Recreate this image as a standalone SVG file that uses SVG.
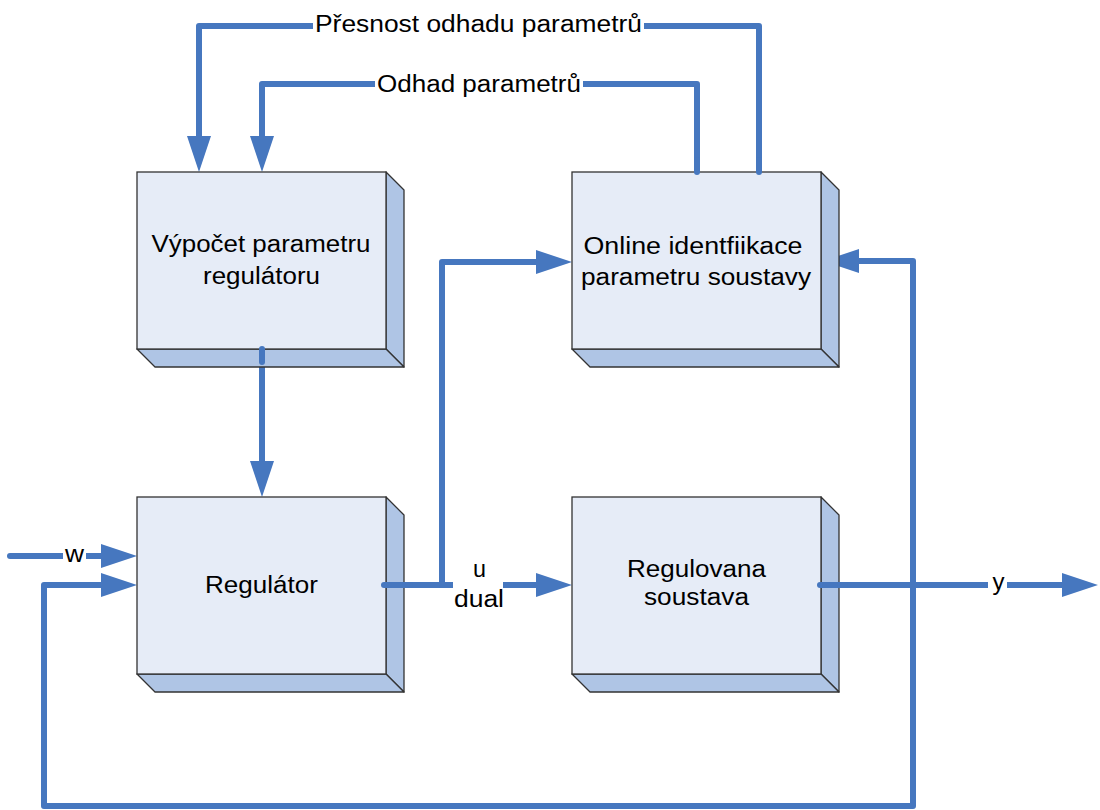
<svg xmlns="http://www.w3.org/2000/svg" width="1100" height="810" viewBox="0 0 1100 810">
  <defs>
    <style>
      .front { fill: #E6ECF7; stroke: #333; stroke-width: 1.3; }
      .side { fill: #AFC5E5; stroke: #333; stroke-width: 1.3; stroke-linejoin: round; }
      .wire { fill: none; stroke: #4677BF; stroke-width: 6; stroke-linecap: round; stroke-linejoin: round; }
      .lbl { font-family: "Liberation Sans", Arial, sans-serif; font-size: 23.5px; fill: #000; text-anchor: middle; }
      .gap { fill: #fff; }
    </style>
    <marker id="arrow" markerUnits="userSpaceOnUse" markerWidth="37" markerHeight="24" refX="1" refY="12" orient="auto">
      <path d="M0,0 L36,12 L0,24 z" fill="#4677BF"/>
    </marker>
    <!-- bevelled block: front face 249x177 with 18px depth -->
    <g id="block">
      <path class="side" d="M249,0 L267,18 L267,195 L249,177 z"/>
      <path class="side" d="M0,177 L249,177 L267,195 L18,195 z"/>
      <rect class="front" x="0" y="0" width="249" height="177"/>
    </g>
  </defs>

  <rect width="1100" height="810" fill="#fff"/>

  <!-- connectors -->
  <g id="connectors">
    <path class="wire" d="M759,172 V26 H199 V137" marker-end="url(#arrow)"/>
    <path class="wire" d="M697,172 V84 H262 V137" marker-end="url(#arrow)"/>
    <path class="wire" d="M262,349 V462" marker-end="url(#arrow)"/>
    <path class="wire" d="M10,556 H102" marker-end="url(#arrow)"/>
    <path class="wire" d="M913,585 V806 H44 V585 H102" marker-end="url(#arrow)"/>
    <path class="wire" d="M913,585 V261 H858" marker-end="url(#arrow)"/>
    <path class="wire" d="M384,585 H537" marker-end="url(#arrow)"/>
    <path class="wire" d="M442,585 V262 H537" marker-end="url(#arrow)"/>
    <path class="wire" d="M820,585 H1063" marker-end="url(#arrow)"/>

    <!-- label backgrounds interrupt the lines -->
    <rect class="gap" x="313" y="14" width="331" height="24"/>
    <rect class="gap" x="375" y="72" width="208" height="24"/>
    <rect class="gap" x="453" y="570" width="50" height="30"/>
    <rect class="gap" x="63" y="548" width="23" height="16"/>
    <rect class="gap" x="988" y="576" width="19" height="20"/>

    <text class="lbl" x="478.5" y="32" textLength="327" lengthAdjust="spacingAndGlyphs">Přesnost odhadu parametrů</text>
    <text class="lbl" x="479" y="92" textLength="204" lengthAdjust="spacingAndGlyphs">Odhad parametrů</text>
    <text class="lbl" x="479.5" y="577" textLength="13" lengthAdjust="spacingAndGlyphs">u</text>
    <text class="lbl" x="479" y="607" textLength="50" lengthAdjust="spacingAndGlyphs">dual</text>
    <text class="lbl" x="74.5" y="562" textLength="19" lengthAdjust="spacingAndGlyphs">w</text>
    <text class="lbl" x="998.5" y="590" textLength="12" lengthAdjust="spacingAndGlyphs">y</text>
  </g>

  <!-- blocks -->
  <g id="vypocet">
    <use href="#block" x="137" y="172"/>
    <text class="lbl" x="261" y="252" textLength="219" lengthAdjust="spacingAndGlyphs">Výpočet parametru</text>
    <text class="lbl" x="261.5" y="284" textLength="117" lengthAdjust="spacingAndGlyphs">regulátoru</text>
  </g>

  <g id="identifikace">
    <use href="#block" x="572" y="172"/>
    <text class="lbl" x="693" y="254" textLength="219" lengthAdjust="spacingAndGlyphs">Online identfiikace</text>
    <text class="lbl" x="696" y="285" textLength="230" lengthAdjust="spacingAndGlyphs">parametru soustavy</text>
  </g>

  <g id="regulator">
    <use href="#block" x="137" y="497"/>
    <text class="lbl" x="261.5" y="593" textLength="113" lengthAdjust="spacingAndGlyphs">Regulátor</text>
  </g>

  <g id="soustava">
    <use href="#block" x="572" y="497"/>
    <text class="lbl" x="696.5" y="577" textLength="139" lengthAdjust="spacingAndGlyphs">Regulovana</text>
    <text class="lbl" x="696.5" y="605" textLength="105" lengthAdjust="spacingAndGlyphs">soustava</text>
  </g>

  <!-- line stubs drawn over the block faces -->
  <g id="connectors-over">
    <path class="wire" d="M759,172 V160"/>
    <path class="wire" d="M697,172 V160"/>
    <path class="wire" d="M262,349 V362"/>
    <path class="wire" d="M384,585 H410"/>
    <path class="wire" d="M820,585 H845"/>
  </g>
</svg>
